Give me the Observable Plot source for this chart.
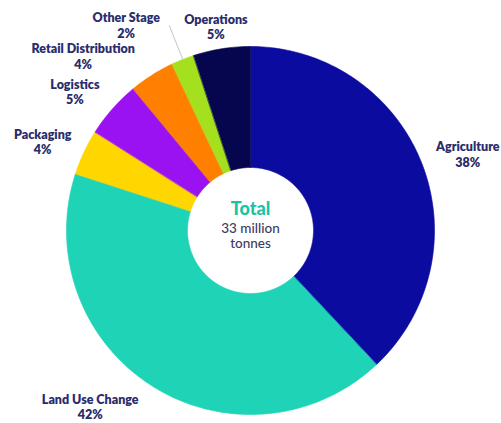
<!DOCTYPE html>
<html>
<head>
<meta charset="utf-8">
<script src="https://cdn.jsdelivr.net/npm/d3@7"></script>
<script src="https://cdn.jsdelivr.net/npm/@observablehq/plot@0.6"></script>
<style>
  body { margin: 0; background: #fff; }
  #chart svg { display: block; overflow: visible; }
</style>
</head>
<body>
<div id="chart"></div>
<script>
// Data
const categories = ["Agriculture", "Land Use Change", "Packaging", "Logistics", "Retail Distribution", "Other Stage", "Operations"];
const shares = [38, 42, 4, 5, 4, 2, 5];
const colors = ["#0b0ba0", "#1ed3b6", "#ffd600", "#9a12f2", "#ff8000", "#a5e01e", "#06064f"];
const totalTitle = "Total";
const totalText = "33 million\ntonnes";

// Layout (label nudges in px, relative to a point just outside each slice)
const labelNudge = [[12, 5], [-42, -10], [-8, 5], [-10, 7], [-49, 12], [-43, 0], [0, 14]];
const labelRadius = 1.2;
const pxPerUnit = 184;
const innerR = 63 / pxPerUnit;

const pie = d3.pie().sort(null).value(d => d.value);
const arcs = pie(categories.map((c, i) => ({category: c, value: shares[i]})));

// slice outlines built from the pie angles
const pts = [];
arcs.forEach(a => {
  const n = Math.max(8, Math.ceil((a.endAngle - a.startAngle) * 60));
  for (let k = 0; k <= n; k++) {
    const t = a.startAngle + (a.endAngle - a.startAngle) * k / n;
    pts.push({category: a.data.category, x: Math.sin(t), y: Math.cos(t)});
  }
  for (let k = n; k >= 0; k--) {
    const t = a.startAngle + (a.endAngle - a.startAngle) * k / n;
    pts.push({category: a.data.category, x: innerR * Math.sin(t), y: innerR * Math.cos(t)});
  }
});

const labels = arcs.map((a, i) => {
  const m = (a.startAngle + a.endAngle) / 2;
  return {
    text: `${a.data.category}\n${a.data.value}%`,
    x: labelRadius * Math.sin(m) + labelNudge[i][0] / pxPerUnit,
    y: labelRadius * Math.cos(m) - labelNudge[i][1] / pxPerUnit
  };
});

// leader for the small "Other Stage" slice
const os = arcs[categories.indexOf("Other Stage")];
const osm = (os.startAngle + os.endAngle) / 2;
const leader = [{x1: Math.sin(osm), y1: Math.cos(osm), x2: 1.2 * Math.sin(osm), y2: 1.2 * Math.cos(osm)}];

const chart = Plot.plot({
  width: 501,
  height: 423,
  marginLeft: 66,
  marginRight: 67,
  marginTop: 46,
  marginBottom: 9,
  x: {domain: [-1, 1], axis: null},
  y: {domain: [-1, 1], axis: null},
  color: {domain: categories, range: colors},
  style: {fontFamily: "Lato, 'Open Sans', sans-serif", background: "#fff"},
  marks: [
    Plot.line(pts, {x: "x", y: "y", z: "category", fill: "category", stroke: "category", strokeWidth: 0.6, curve: "linear-closed"}),
    Plot.link(leader, {x1: "x1", y1: "y1", x2: "x2", y2: "y2", stroke: "#c4c4c4", strokeWidth: 1}),
    Plot.text(labels, {x: "x", y: "y", text: "text", fontSize: 12.5, fontWeight: 800, fill: "#2a2c6c", lineHeight: 1.22}),
    Plot.text([totalTitle], {x: 0, y: 0, text: d => d, dy: -21, fontSize: 18, fontWeight: 900, fill: "#1cc2a6"}),
    Plot.text([totalText], {x: 0, y: 0, text: d => d, dy: 5, fontSize: 13.5, fontWeight: 500, fill: "#3b3c5e", lineHeight: 1.1})
  ]
});
document.getElementById("chart").append(chart);
</script>
</body>
</html>
